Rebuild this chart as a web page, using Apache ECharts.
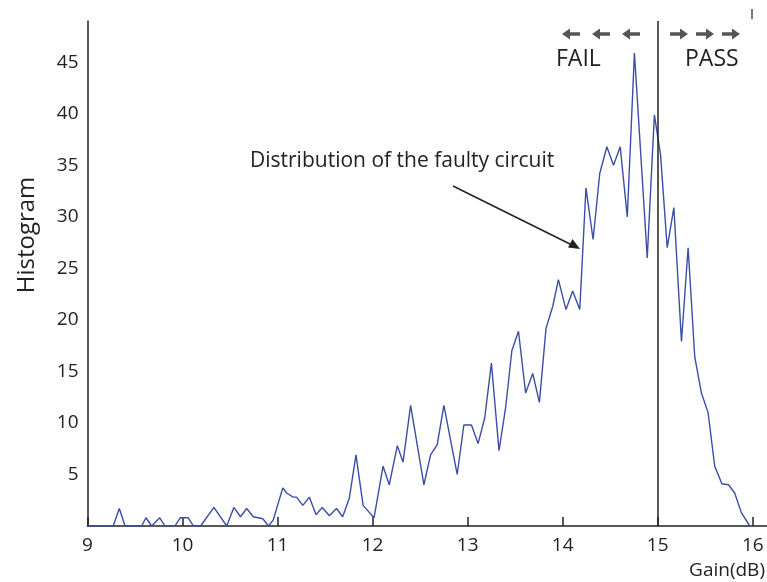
<!DOCTYPE html>
<html><head><meta charset="utf-8">
<script src="https://cdn.jsdelivr.net/npm/echarts@6/dist/echarts.min.js"></script>
<style>html,body{margin:0;padding:0;background:#fff}#c{width:767px;height:582px}</style>
</head><body><div id="c"></div>
<script>
const gain = [9.00, 9.27, 9.335, 9.395, 9.57, 9.615, 9.675, 9.76, 9.815, 9.92,
  9.975, 10.06, 10.115, 10.19, 10.33, 10.465, 10.54, 10.61, 10.675, 10.745,
  10.845, 10.905, 10.955, 11.055, 11.095, 11.165, 11.20, 11.265, 11.335, 11.405,
  11.47, 11.545, 11.62, 11.685, 11.755, 11.825, 11.90, 12.015, 12.11, 12.175,
  12.26, 12.32, 12.40, 12.54, 12.61, 12.68, 12.75, 12.89, 12.96, 13.04,
  13.11, 13.18, 13.25, 13.33, 13.40, 13.465, 13.535, 13.61, 13.685, 13.755,
  13.825, 13.895, 13.955, 14.035, 14.105, 14.18, 14.245, 14.32, 14.39, 14.465,
  14.535, 14.605, 14.68, 14.755, 14.89, 14.965, 15.03, 15.10, 15.17, 15.25,
  15.32, 15.39, 15.46, 15.53, 15.60, 15.675, 15.745, 15.81, 15.88, 15.97];
const histogram = [0, 0, 1.7, 0, 0, 0.8, 0, 0.8, 0, 0,
  0.8, 0.8, 0, 0, 1.8, 0, 1.8, 0.9, 1.7, 0.9,
  0.7, 0, 0.6, 3.7, 3.2, 2.8, 2.8, 2.0, 2.8, 1.1,
  1.8, 1.0, 1.7, 0.9, 2.7, 6.9, 2.0, 0.8, 5.8, 4.0,
  7.8, 6.2, 11.7, 4.0, 6.9, 7.9, 11.7, 5.0, 9.8, 9.8,
  8.0, 10.5, 15.8, 7.3, 11.5, 17.0, 18.9, 12.9, 14.8, 12.0,
  19.2, 21.3, 23.9, 21.0, 22.8, 21.0, 32.8, 27.8, 34.2, 36.8,
  35.0, 36.8, 30.0, 45.9, 26.0, 39.9, 36.0, 27.0, 30.9, 17.9,
  27.0, 16.4, 12.9, 11.0, 5.8, 4.1, 4.0, 3.2, 1.3, 0];
const xTicks = [9, 10, 11, 12, 13, 14, 15, 16];
const yTicks = [5, 10, 15, 20, 25, 30, 35, 40, 45];
const threshold = 15;
const xLabel = 'Gain(dB)';
const yLabel = 'Histogram';
const annotation = 'Distribution of the faulty circuit';

const chart = echarts.init(document.getElementById('c'), null, {renderer: 'canvas'});
const FONT = 'Open Sans';
const TXT = '#222';
const AC = '#555';

function arrowLeft(tip, y) {
  return [
    {type: 'line', shape: {x1: tip + 6, y1: y, x2: tip + 18, y2: y}, style: {stroke: AC, lineWidth: 3.5}},
    {type: 'polygon', shape: {points: [[tip, y], [tip + 8, y - 5.5], [tip + 8, y + 5.5]]}, style: {fill: AC}}
  ];
}
function arrowRight(tip, y) {
  return [
    {type: 'line', shape: {x1: tip - 18, y1: y, x2: tip - 6, y2: y}, style: {stroke: AC, lineWidth: 3.5}},
    {type: 'polygon', shape: {points: [[tip, y], [tip - 8, y - 5.5], [tip - 8, y + 5.5]]}, style: {fill: AC}}
  ];
}

const graphics = [].concat(
  arrowLeft(562, 34), arrowLeft(592, 34), arrowLeft(622, 34),
  arrowRight(688, 34), arrowRight(714, 34), arrowRight(740, 34),
  [
    {type: 'text', left: 556, top: 48, style: {text: 'FAIL', font: '23px "' + FONT + '"', fill: TXT}},
    {type: 'text', left: 685, top: 48, style: {text: 'PASS', font: '23px "' + FONT + '"', fill: TXT}},
    {type: 'text', left: 250, top: 151, style: {text: annotation, font: '21px "' + FONT + '"', fill: TXT}},
    {type: 'line', shape: {x1: 453, y1: 186, x2: 572, y2: 245}, style: {stroke: '#222', lineWidth: 1.5}},
    {type: 'polygon', shape: {points: [[580, 249], [568, 247.5], [572.5, 239]]}, style: {fill: '#222'}},
    {type: 'line', shape: {x1: 752, y1: 9, x2: 752, y2: 19}, style: {stroke: '#222', lineWidth: 1.2}},
    {type: 'text', right: 2, top: 561, style: {text: xLabel, font: '19px "' + FONT + '"', fill: TXT}},
    {type: 'text', x: 27, y: 235, rotation: Math.PI / 2, style: {text: yLabel, font: '24px "' + FONT + '"', fill: TXT, align: 'center', verticalAlign: 'middle'}}
  ]
);

chart.setOption({
  animation: false,
  backgroundColor: '#fff',
  grid: {left: 87.5, right: 0, top: 21, bottom: 56, containLabel: false},
  xAxis: {
    type: 'value', min: 9, max: 16.15,
    axisLine: {show: true, lineStyle: {color: '#222', width: 1.5}},
    axisTick: {show: true, inside: true, length: 9, customValues: xTicks, lineStyle: {color: '#222', width: 1.5}},
    axisLabel: {customValues: xTicks, color: TXT, fontFamily: FONT, fontSize: 19, margin: 10},
    splitLine: {show: false}
  },
  yAxis: {
    type: 'value', min: 0, max: 49,
    axisLine: {show: true, lineStyle: {color: '#222', width: 1.5}},
    axisTick: {show: false},
    axisLabel: {customValues: yTicks, color: TXT, fontFamily: FONT, fontSize: 19, margin: 9},
    splitLine: {show: false}
  },
  series: [{
    type: 'line',
    data: gain.map((g, i) => [g, histogram[i]]),
    showSymbol: false,
    lineStyle: {color: '#3b4ea6', width: 1.4},
    markLine: {
      silent: true, symbol: 'none', label: {show: false},
      lineStyle: {color: '#222', width: 1.5, type: 'solid'},
      data: [{xAxis: threshold}]
    }
  }],
  graphic: graphics
});
</script>
</body></html>
